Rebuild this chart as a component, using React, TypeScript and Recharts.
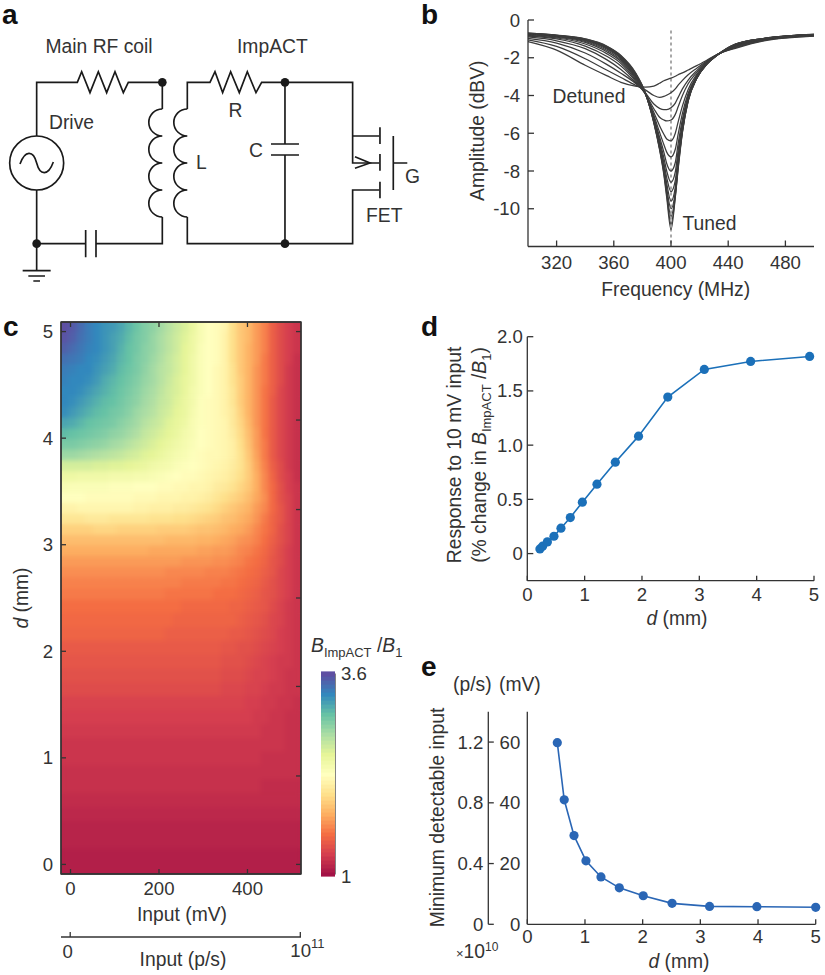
/**
 * Five panel figure: resonator circuit (a), tuning curves (b), sensitivity map (c),
 * response vs depth (d), detection limit vs depth (e).
 */
import React from 'react';
import {
  LineChart,
  Line,
  ReferenceArea,
  ReferenceLine,
  Scatter,
  ScatterChart,
  XAxis,
  YAxis,
} from 'recharts';

const FONT = '"Liberation Sans", Arial, sans-serif';
const INK = '#333333';
const FS = 18.6;
const LABEL_FS = 19.3;

// ---- panel b: amplitude (dBV) per frequency, most detuned curve first
const freqs = [300, 320, 340, 355, 365, 375, 382, 388, 392, 395, 397, 400, 403, 405, 408, 412, 418, 425, 432, 445, 465, 500];
const c0 = [-1.15, -1.6, -2.4, -2.95, -3.3, -3.5, -3.55, -3.5, -3.35, -3.22, -3.16, -3.08, -2.98, -2.9, -2.8, -2.65, -2.42, -2.13, -1.83, -1.5, -1.1, -0.85];
const c1 = [-1.05, -1.4, -2.05, -2.65, -3.05, -3.45, -3.7, -4.0, -4.1, -4.05, -3.98, -3.85, -3.65, -3.45, -3.2, -2.9, -2.55, -2.17, -1.84, -1.47, -1.08, -0.84];
const c2 = [-0.97, -1.22, -1.75, -2.35, -2.82, -3.35, -3.85, -4.45, -4.68, -4.75, -4.75, -4.65, -4.4, -4.1, -3.65, -3.18, -2.68, -2.2, -1.85, -1.44, -1.06, -0.83];
const c3 = [-0.9, -1.1, -1.52, -2.1, -2.62, -3.3, -3.9, -4.7, -5.15, -5.3, -5.35, -5.3, -5.0, -4.6, -4.0, -3.38, -2.77, -2.23, -1.85, -1.41, -1.04, -0.82];
const c4 = [-0.85, -1.0, -1.38, -1.92, -2.44, -3.22, -3.9, -4.9, -5.6, -6.05, -6.3, -6.4, -6.0, -5.4, -4.55, -3.68, -2.88, -2.26, -1.86, -1.38, -1.03, -0.81];
const c5 = [-0.81, -0.95, -1.27, -1.78, -2.3, -3.15, -3.9, -5.05, -5.95, -6.6, -7.0, -7.25, -6.85, -6.05, -4.95, -3.88, -2.95, -2.28, -1.86, -1.36, -1.02, -0.8];
const c6 = [-0.78, -0.91, -1.19, -1.68, -2.2, -3.08, -3.9, -5.15, -6.2, -7.0, -7.6, -8.0, -7.55, -6.55, -5.25, -4.0, -3.0, -2.3, -1.87, -1.34, -1.01, -0.79];
const c7 = [-0.76, -0.88, -1.14, -1.6, -2.12, -3.02, -3.88, -5.22, -6.35, -7.3, -8.0, -8.6, -8.05, -6.9, -5.45, -4.08, -3.03, -2.31, -1.87, -1.33, -1.0, -0.78];
const c8 = [-0.74, -0.86, -1.1, -1.54, -2.05, -2.97, -3.88, -5.28, -6.5, -7.55, -8.35, -9.1, -8.5, -7.2, -5.6, -4.15, -3.05, -2.32, -1.87, -1.32, -0.99, -0.78];
const c9 = [-0.73, -0.84, -1.07, -1.49, -2.0, -2.92, -3.87, -5.33, -6.6, -7.75, -8.65, -9.6, -8.85, -7.42, -5.72, -4.2, -3.07, -2.33, -1.88, -1.31, -0.99, -0.77];
const c10 = [-0.72, -0.83, -1.05, -1.45, -1.96, -2.88, -3.87, -5.37, -6.7, -7.9, -8.9, -10.0, -9.1, -7.6, -5.8, -4.23, -3.08, -2.34, -1.88, -1.3, -0.98, -0.77];
const c11 = [-0.71, -0.82, -1.03, -1.42, -1.93, -2.84, -3.86, -5.4, -6.77, -8.0, -9.1, -10.4, -9.25, -7.72, -5.87, -4.26, -3.09, -2.34, -1.88, -1.29, -0.98, -0.76];
const c12 = [-0.7, -0.81, -1.01, -1.4, -1.9, -2.8, -3.86, -5.43, -6.82, -8.1, -9.25, -10.8, -9.35, -7.82, -5.92, -4.28, -3.1, -2.35, -1.88, -1.28, -0.97, -0.76];
const c13 = [-0.7, -0.8, -1.0, -1.38, -1.88, -2.77, -3.85, -5.45, -6.87, -8.2, -9.4, -11.1, -9.4, -7.9, -5.95, -4.3, -3.1, -2.35, -1.88, -1.28, -0.97, -0.76];
const tuningCurves = [c0, c1, c2, c3, c4, c5, c6, c7, c8, c9, c10, c11, c12, c13];
const tuningTable = freqs.map((f, i) => {
  const row: Record<string, number> = { f };
  tuningCurves.forEach((c, k) => {
    row[`c${k}`] = c[i];
  });
  return row;
});
const freqTicks = [320, 360, 400, 440, 480];
const ampTicks = [0, -2, -4, -6, -8, -10];

// ---- panel c: position along the colour bar (0 = ratio 1, 100 = ratio 3.6), row per depth
const heatDepths = [
  5.04, 4.94, 4.84, 4.74, 4.64, 4.54, 4.44, 4.34, 4.24, 4.14, 4.04, 3.94, 3.84, 3.74, 3.64, 3.54, 3.44, 3.34, 3.24, 3.14,
  3.04, 2.94, 2.84, 2.74, 2.64, 2.54, 2.42, 2.29, 2.16, 2.03, 1.9, 1.77, 1.64, 1.51, 1.38, 1.25, 1.12, 0.99, 0.86, 0.73,
  0.6, 0.47, 0.34, 0.21, 0.08, -0.03,
];
const heatRows = [
  [100,98,95,92,90,88,87,85,82,79,76,74,71,68,65,62,58,53,50,49,47,40,35,32,27,23,17,13,10,8],
  [99,97,94,92,90,88,86,84,81,78,76,73,70,67,64,61,57,53,50,49,46,40,35,32,27,23,17,13,10,8],
  [97,95,93,91,90,88,86,83,80,78,75,73,70,67,64,60,57,52,50,49,46,40,35,31,27,23,17,13,10,8],
  [94,93,92,90,89,87,85,82,80,77,75,72,69,66,63,60,56,52,50,49,46,40,35,31,27,22,17,13,10,7],
  [92,91,90,90,88,86,84,81,79,77,74,71,68,66,63,60,56,52,50,48,46,41,35,31,26,22,17,13,9,7],
  [91,90,90,89,87,84,82,80,78,76,73,71,68,65,62,59,56,52,50,48,46,41,36,31,26,22,17,13,9,7],
  [90,90,89,87,85,83,81,79,77,75,72,70,67,64,62,59,55,52,50,48,46,42,36,31,26,21,17,12,9,7],
  [90,89,87,85,83,81,80,78,76,74,71,69,66,64,61,58,55,51,49,48,46,42,36,31,26,21,16,12,9,7],
  [89,87,85,83,81,80,78,77,75,72,70,68,65,63,60,58,54,51,49,48,46,43,37,31,26,21,16,12,9,7],
  [85,84,82,80,79,78,77,75,73,71,68,66,64,61,59,57,53,51,49,48,47,43,38,32,26,21,16,12,9,7],
  [81,80,79,78,77,76,74,73,71,69,66,64,62,60,58,55,53,50,49,48,47,44,39,33,27,21,16,12,9,7],
  [77,77,76,75,74,73,71,70,68,66,64,62,60,58,56,54,52,50,49,48,47,45,40,34,27,22,16,12,9,7],
  [72,72,71,70,69,68,67,66,64,63,61,60,58,56,54,53,51,49,48,48,47,45,41,35,28,22,16,12,9,7],
  [63,63,63,63,62,62,61,61,60,59,58,56,55,54,52,51,50,49,48,47,46,44,41,36,29,23,17,13,9,7],
  [57,57,56,56,56,56,55,55,55,54,54,53,52,51,50,49,49,48,47,46,45,43,40,36,30,24,18,13,10,7],
  [53,52,52,52,52,52,51,51,51,50,50,50,49,49,48,48,47,47,46,44,43,41,38,35,30,24,19,14,10,8],
  [50,50,50,49,49,49,49,49,49,48,48,48,47,47,47,46,46,45,44,42,40,38,36,33,29,25,19,14,11,8],
  [46,46,47,47,47,47,47,47,47,46,46,45,45,45,44,44,43,42,41,39,37,35,33,31,27,24,19,15,11,8],
  [42,42,42,43,43,43,42,42,42,42,42,41,41,41,40,40,39,38,37,36,34,33,31,29,26,22,18,15,11,8],
  [37,37,37,37,38,38,38,37,37,37,37,37,36,36,36,36,35,34,34,33,32,30,29,27,24,21,18,14,11,8],
  [33,33,33,33,33,33,33,33,33,33,33,33,33,32,32,32,32,31,31,30,29,28,26,25,23,20,17,14,11,8],
  [30,30,30,30,30,30,30,30,30,30,30,29,29,29,29,29,29,28,28,27,27,26,24,23,21,19,16,13,10,8],
  [27,27,27,27,27,27,27,27,27,27,27,27,27,27,27,26,26,26,26,25,25,24,23,21,20,18,15,13,10,8],
  [25,25,25,25,25,25,25,25,25,25,25,25,25,24,24,24,24,24,23,23,23,22,21,20,19,17,15,12,10,8],
  [23,23,23,23,23,23,23,23,23,23,23,23,23,23,23,22,22,22,22,22,21,21,20,19,18,16,14,12,10,8],
  [22,22,22,22,22,22,22,22,22,22,22,22,22,21,21,21,21,21,21,20,20,20,19,18,17,15,14,12,10,8],
  [20,20,20,20,20,20,20,20,20,20,20,20,20,20,20,19,19,19,19,19,19,18,18,17,16,15,13,11,9,8],
  [19,19,19,19,19,19,19,19,19,19,19,19,19,19,18,18,18,18,18,18,18,18,17,16,15,14,12,11,9,8],
  [18,18,18,18,18,18,18,18,18,18,18,18,18,17,17,17,17,17,17,17,17,16,16,15,14,13,12,10,9,8],
  [16,16,16,16,16,16,16,16,16,16,16,16,16,16,16,16,16,16,16,16,15,15,14,14,13,12,11,10,9,8],
  [15,15,15,15,15,15,15,15,15,15,15,15,15,15,15,15,15,15,15,15,14,14,14,13,12,11,10,9,9,8],
  [14,14,14,14,14,14,14,14,14,14,14,14,14,14,14,14,14,14,14,14,13,13,13,12,11,11,10,9,8,8],
  [13,13,13,13,13,13,13,13,13,13,13,13,13,13,13,13,13,13,13,13,12,12,12,11,11,10,9,9,8,8],
  [11,11,11,11,11,11,11,11,11,11,11,11,11,11,11,11,11,11,11,11,11,11,11,10,10,9,9,8,8,7],
  [10,10,10,10,10,10,10,10,10,10,10,10,10,10,10,10,10,10,10,10,10,10,10,10,9,9,8,8,7,7],
  [9,9,9,9,9,9,9,9,9,9,9,9,9,9,9,9,9,9,9,9,9,9,9,9,9,8,8,8,7,7],
  [8,8,8,8,8,8,8,8,8,8,8,8,8,8,8,8,8,8,8,8,8,8,8,8,8,8,8,8,7,7],
  [8,8,8,8,8,8,8,8,8,8,8,8,8,8,8,8,8,8,8,8,8,8,8,8,8,7,7,7,7,7],
  [7,7,7,7,7,7,7,7,7,7,7,7,7,7,7,7,7,7,7,7,7,7,7,7,7,7,7,7,7,7],
  [7,7,7,7,7,7,7,7,7,7,7,7,7,7,7,7,7,7,7,7,7,7,7,7,7,6,6,6,6,6],
  [6,6,6,6,6,6,6,6,6,6,6,6,6,6,6,6,6,6,6,6,6,6,6,6,6,6,6,6,6,6],
  [5,5,5,5,5,5,5,5,5,5,5,5,5,5,5,5,5,5,5,5,5,5,5,5,5,5,5,5,5,5],
  [4,4,4,4,4,4,4,4,4,4,4,4,4,4,4,4,4,4,4,4,4,4,4,4,4,4,4,4,4,4],
  [4,4,4,4,4,4,4,4,4,4,4,4,4,4,4,4,4,4,4,4,4,4,4,4,4,4,4,4,4,4],
  [3,3,3,3,3,3,3,3,3,3,3,3,3,3,3,3,3,3,3,3,3,3,3,3,3,3,3,3,3,3],
  [3,3,3,3,3,3,3,3,3,3,3,3,3,3,3,3,3,3,3,3,3,3,3,3,3,3,3,3,3,3],
];
const inputDomain: [number, number] = [-21.5, 521];
const depthDomain: [number, number] = [-0.09, 5.09];
const inputTicks = [0, 200, 400];
const depthTicks = [0, 1, 2, 3, 4, 5];
const sideTicks = [0, 0.83, 1.67, 2.5, 3.33, 4.17, 5];
const photonDomain: [number, number] = [-0.04, 1.003];
const photonTicks = [0, 1];
const barLevels = [
  0, 2, 4, 6, 8, 10, 12, 14, 16, 18, 20, 22, 24, 26, 28, 30, 32, 34, 36, 38, 40, 42, 44, 46, 48, 50, 52, 54, 56, 58, 60,
  62, 64, 66, 68, 70, 72, 74, 76, 78, 80, 82, 84, 86, 88, 90, 92, 94, 96, 98, 100,
];
const barTicks = [1, 3.6];

// ---- panel d
const responseDepth = [0.22, 0.267, 0.35, 0.465, 0.587, 0.75, 0.96, 1.215, 1.535, 1.94, 2.45, 3.087, 3.895, 4.924];
const responseValue = [0.043, 0.068, 0.108, 0.16, 0.234, 0.332, 0.474, 0.64, 0.843, 1.083, 1.443, 1.698, 1.772, 1.818];
const responseTicks = [0, 0.5, 1, 1.5, 2];

// ---- panel e
const limitDepth = [0.52, 0.64, 0.81, 1.017, 1.277, 1.595, 2.01, 2.51, 3.16, 3.98, 5.0];
const limitMv = [59.8, 41.0, 29.2, 20.9, 15.6, 12.0, 9.4, 6.9, 5.9, 5.8, 5.6];
const limitPhotons = [1.196, 0.82, 0.584, 0.418, 0.312, 0.24, 0.188, 0.138, 0.118, 0.116, 0.112];
const limitMvTicks = [0, 20, 40, 60];
const limitPhotonTicks = [0, 0.4, 0.8, 1.2];
const mmTicks = [0, 1, 2, 3, 4, 5];

// Spectral colour bar, low to high (low end a little muted, as in the figure)
const SPECTRAL = [
  [163, 18, 70], [213, 62, 79], [244, 109, 67], [253, 174, 97], [254, 224, 139], [255, 255, 191],
  [230, 245, 152], [171, 221, 164], [102, 194, 165], [50, 136, 189], [94, 79, 162],
];
function spectral(pct: number) {
  const p = Math.min(99.999, Math.max(0, pct)) / 10;
  const i = Math.floor(p);
  const f = p - i;
  const c = SPECTRAL[i].map((v, k) => Math.round(v + (SPECTRAL[i + 1][k] - v) * f));
  return `rgb(${c[0]},${c[1]},${c[2]})`;
}

const HEAT_W = 240;
const HEAT_H = 552;
const colW = (HEAT_W / heatRows[0].length) + 0.6;
const heatCells = heatRows.flatMap((row, r) => {
  const top = r === 0 ? depthDomain[1] : (heatDepths[r - 1] + heatDepths[r]) / 2;
  const bottom = r === heatRows.length - 1 ? depthDomain[0] : (heatDepths[r] + heatDepths[r + 1]) / 2;
  const span = inputDomain[1] - inputDomain[0];
  return row.map((t, c) => ({
    x: inputDomain[0] + ((c + 0.5) * span) / row.length,
    y: (top + bottom) / 2,
    t,
    h: ((top - bottom) * HEAT_H) / (depthDomain[1] - depthDomain[0]) + 0.6,
  }));
});
const barCells = barLevels.map((t) => ({ x: 0.5, y: 1 + (2.6 * t) / 100, t }));
const frameAnchor = [{ x: 0, y: 0 }];
const photonAnchors = photonTicks.map((x) => ({ x, y: 0 }));

function HeatCell(props: any) {
  const { cx, cy, payload } = props;
  return <rect x={cx - colW / 2} y={cy - payload.h / 2} width={colW} height={payload.h} fill={spectral(payload.t)} />;
}
function BarCell(props: any) {
  const { cx, cy, payload } = props;
  return <rect x={cx - 7} y={cy - 2.6} width={14} height={5.2} fill={spectral(payload.t)} />;
}
const NoMark = () => <g />;

const axisLine = { stroke: INK, strokeWidth: 1.3 };
const tickText = { fontFamily: FONT, fontSize: FS, fill: INK };

const bottomTick = (len: number, gap: number) => (p: any) => (
  <g>
    <line x1={p.x} x2={p.x} y1={p.y} y2={p.y - len} stroke={INK} strokeWidth={1.3} />
    <text x={p.x} y={p.y + gap} textAnchor="middle" {...tickText}>{p.payload.value}</text>
  </g>
);
const leftTick = (len: number, gap: number, fmt: (v: number) => string = String) => (p: any) => (
  <g>
    <line x1={p.x} x2={p.x + len} y1={p.y} y2={p.y} stroke={INK} strokeWidth={1.3} />
    <text x={p.x - gap} y={p.y + 6.5} textAnchor="end" {...tickText}>{fmt(p.payload.value)}</text>
  </g>
);
const topMark = (p: any) => <line x1={p.x} x2={p.x} y1={p.y} y2={p.y + 5} stroke={INK} strokeWidth={1.3} />;
const rightMark = (p: any) => <line x1={p.x} x2={p.x - 5} y1={p.y} y2={p.y} stroke={INK} strokeWidth={1.3} />;
const barTick = (p: any) => (
  <text x={p.x + 6} y={p.y + (p.payload.value === 1 ? 9 : 5.5)} {...tickText}>{p.payload.value}</text>
);
const photonTick = (p: any) =>
  p.payload.value === 0 ? (
    <g>
      <line x1={p.x} x2={p.x} y1={p.y} y2={p.y - 5} stroke={INK} strokeWidth={1.3} />
      <text x={p.x - 2.5} y={p.y + 21} textAnchor="middle" {...tickText}>0</text>
    </g>
  ) : (
    <g>
      <line x1={p.x} x2={p.x} y1={p.y} y2={p.y - 5} stroke={INK} strokeWidth={1.3} />
      <text x={p.x - 10} y={p.y + 20} {...tickText}>
        10
        <tspan fontSize={13} dy={-9}>11</tspan>
      </text>
    </g>
  );
const fmtResponse = (v: number) => (v === 0 ? '0' : v.toFixed(1));

const abs = (left: number, top: number): React.CSSProperties => ({ position: 'absolute', left, top });

function Coil({ x }: { x: number }) {
  const ys = [327, 408, 489, 570, 651];
  const d = `M${x},${ys[0]} ` + ys.slice(1).map((y) => `A40.5,40.5 0 0 0 ${x},${y}`).join(' ');
  return <path d={d} />;
}

// Circuit and all free text, drawn over the charts
function Overlay() {
  const t = { fontFamily: FONT, fontSize: LABEL_FS, fill: INK };
  const letter = { fontFamily: FONT, fontSize: 28, fontWeight: 700, fill: '#111' };
  return (
    <svg width={825} height={975} style={abs(0, 0)}>
      <g transform="scale(0.3333)" fill="none" stroke="#1a1a1a" strokeWidth={5}>
        <path d="M110,408 V247 H232 L245,215 L270,278 L295,215 L320,278 L345,215 L370,278 L385,247 H487 V327" />
        <Coil x={487} />
        <path d="M487,651 V731 H290 M257,731 H110 V812 M257,690 V772 M288,690 V772" />
        <path d="M110,570 V731" />
        <circle cx={110} cy={489} r={81} />
        <path d="M60,492 C75,450 100,450 110,489 C120,528 145,528 160,486" />
        <path d="M68,812 H152 M85,828 H135 M100,843 H120" />
        <Coil x={562} />
        <path d="M562,327 V247 H630 L645,215 L668,278 L692,215 L718,278 L742,215 L768,278 L785,247 H1058 V489 H1138" />
        <path d="M562,651 V731 H1058 V570 H1138 M1058,408 H1138" />
        <path d="M855,247 V432 M813,432 H897 M813,465 H897 M855,465 V731" />
        <path d="M1065,470 L1110,489 L1065,505" />
        <path d="M1140,382 V432 M1140,462 V512 M1140,545 V595 M1180,408 V570 M1180,489 H1222" />
        <g fill="#1a1a1a" stroke="none">
          <circle cx={487} cy={247} r={13} />
          <circle cx={855} cy={247} r={13} />
          <circle cx={855} cy={731} r={13} />
          <circle cx={110} cy={731} r={13} />
        </g>
      </g>
      <text x={2} y={24} {...letter}>a</text>
      <text x={421} y={24} {...letter}>b</text>
      <text x={3} y={336} {...letter}>c</text>
      <text x={421} y={336} {...letter}>d</text>
      <text x={421} y={676} {...letter}>e</text>

      <text x={45.5} y={52.7} {...t}>Main RF coil</text>
      <text x={237} y={52.7} {...t}>ImpACT</text>
      <text x={49} y={129} {...t}>Drive</text>
      <text x={228.5} y={117} {...t}>R</text>
      <text x={249} y={157} {...t}>C</text>
      <text x={196} y={169} {...t}>L</text>
      <text x={405} y={183} {...t}>G</text>
      <text x={366} y={222} {...t}>FET</text>

      <text x={552.5} y={103} {...t}>Detuned</text>
      <text x={682.5} y={230} {...t}>Tuned</text>
      <text x={675.7} y={295.5} textAnchor="middle" {...t}>Frequency (MHz)</text>
      <text transform="translate(484,130.7) rotate(-90)" textAnchor="middle" {...t}>Amplitude (dBV)</text>

      <text transform="translate(28,598) rotate(-90)" textAnchor="middle" {...t}>
        <tspan fontStyle="italic">d</tspan> (mm)
      </text>
      <text x={182} y={921} textAnchor="middle" {...t}>Input (mV)</text>
      <text x={183} y={966} textAnchor="middle" {...t}>Input (p/s)</text>
      <text x={311} y={652} {...t}>
        <tspan fontStyle="italic">B</tspan>
        <tspan fontSize={13} dy={5}>ImpACT</tspan>
        <tspan dy={-5}> /</tspan>
        <tspan fontStyle="italic">B</tspan>
        <tspan fontSize={13} dy={5}>1</tspan>
      </text>

      <text transform="translate(461,455) rotate(-90)" textAnchor="middle" {...t}>Response to 10 mV input</text>
      <text transform="translate(486,455) rotate(-90)" textAnchor="middle" {...t}>
        (% change in <tspan fontStyle="italic">B</tspan>
        <tspan fontSize={13} dy={5}>ImpACT</tspan>
        <tspan dy={-5}> /</tspan>
        <tspan fontStyle="italic">B</tspan>
        <tspan fontSize={13} dy={5}>1</tspan>
        <tspan dy={-5}>)</tspan>
      </text>
      <text x={677} y={625} textAnchor="middle" {...t}>
        <tspan fontStyle="italic">d</tspan> (mm)
      </text>

      <text x={453} y={691} {...t}>(p/s)</text>
      <text x={499} y={691} {...t}>(mV)</text>
      <text transform="translate(444,817.5) rotate(-90)" textAnchor="middle" {...t}>Minimum detectable input</text>
      <text x={456} y={958} {...t}>
        <tspan fontSize={13}>×</tspan>10<tspan fontSize={12} dy={-7}>10</tspan>
      </text>
      <text x={679} y={968} textAnchor="middle" {...t}>
        <tspan fontStyle="italic">d</tspan> (mm)
      </text>
    </svg>
  );
}

function HeatLayer() {
  return (
    <ScatterChart width={HEAT_W} height={HEAT_H} margin={{ top: 0, right: 0, bottom: 0, left: 0 }}>
      <XAxis hide type="number" dataKey="x" domain={inputDomain} allowDataOverflow />
      <YAxis hide type="number" dataKey="y" domain={depthDomain} allowDataOverflow />
      <Scatter data={heatCells} shape={HeatCell} isAnimationActive={false} />
    </ScatterChart>
  );
}

export default function App() {
  return (
    <div style={{ position: 'absolute', left: 0, top: 0, width: 825, height: 975, background: '#fff', overflow: 'hidden' }}>
      {/* b */}
      <div style={abs(440, 0)}>
        <LineChart width={385} height={310} data={tuningTable} margin={{ top: 20, right: 11, bottom: 0, left: 0 }}>
          <XAxis
            type="number" dataKey="f" domain={[300, 500]} ticks={freqTicks} height={63.5}
            axisLine={axisLine} tickLine={false} tickSize={0} tickMargin={0} tick={bottomTick(6, 22)} interval={0}
          />
          <YAxis
            type="number" domain={[-12, 0]} ticks={ampTicks} width={88}
            axisLine={axisLine} tickLine={false} tickSize={0} tickMargin={0} tick={leftTick(6, 8)} interval={0}
          />
          <ReferenceLine
            segment={[{ x: 400, y: -0.55 }, { x: 400, y: -12 }]}
            stroke="#a8a8a8" strokeWidth={2} strokeDasharray="3 3"
          />
          {tuningCurves.map((_, k) => (
            <Line key={k} dataKey={`c${k}`} type="monotone" stroke="#3c3c3c" strokeWidth={1.25} dot={false} isAnimationActive={false} />
          ))}
        </LineChart>
      </div>

      {/* c: sharp cells, a softened copy, then frame and ticks */}
      <div style={abs(61, 322)}>
        <HeatLayer />
      </div>
      <div style={{ ...abs(61, 322), width: HEAT_W, height: HEAT_H, overflow: 'hidden' }}>
        <div style={{ filter: 'blur(2.5px)' }}>
          <HeatLayer />
        </div>
      </div>
      <div style={abs(0, 300)}>
        <ScatterChart width={320} height={620} margin={{ top: 21, right: 18, bottom: 0, left: 0 }}>
          <XAxis
            type="number" dataKey="x" xAxisId="b" domain={inputDomain} ticks={inputTicks} height={46} allowDataOverflow
            axisLine={axisLine} tickLine={false} tickSize={0} tickMargin={0} tick={bottomTick(5, 20.5)} interval={0}
          />
          <XAxis
            type="number" dataKey="x" xAxisId="t" orientation="top" domain={inputDomain} ticks={inputTicks} height={1} allowDataOverflow
            axisLine={axisLine} tickLine={false} tickSize={0} tickMargin={0} tick={topMark} interval={0}
          />
          <YAxis
            type="number" dataKey="y" yAxisId="l" domain={depthDomain} ticks={depthTicks} width={61} allowDataOverflow
            axisLine={axisLine} tickLine={false} tickSize={0} tickMargin={0} tick={leftTick(5, 8)} interval={0}
          />
          <YAxis
            type="number" dataKey="y" yAxisId="r" orientation="right" domain={depthDomain} ticks={sideTicks} width={1} allowDataOverflow
            axisLine={axisLine} tickLine={false} tickSize={0} tickMargin={0} tick={rightMark} interval={0}
          />
          <Scatter xAxisId="b" yAxisId="l" data={frameAnchor} shape={NoMark} isAnimationActive={false} />
          <Scatter xAxisId="t" yAxisId="r" data={frameAnchor} shape={NoMark} isAnimationActive={false} />
          <ReferenceArea xAxisId="b" yAxisId="l" x1={inputDomain[0]} x2={inputDomain[1]} y1={depthDomain[0]} y2={depthDomain[1]} fill="none" stroke={INK} strokeWidth={1.3} />
        </ScatterChart>
      </div>

      {/* colour bar */}
      <div style={abs(321, 659)}>
        <ScatterChart width={70} height={230} margin={{ top: 15, right: 0, bottom: 15, left: 0 }}>
          <XAxis hide type="number" dataKey="x" domain={[0, 1]} />
          <YAxis
            type="number" dataKey="y" orientation="right" domain={[1, 3.6]} ticks={barTicks} width={56}
            axisLine={false} tickLine={false} tickSize={0} tickMargin={0} tick={barTick} interval={0}
          />
          <Scatter data={barCells} shape={BarCell} isAnimationActive={false} />
          <ReferenceArea x1={0} x2={1} y1={1} y2={3.6} fill="none" stroke={INK} strokeWidth={1.2} />
        </ScatterChart>
      </div>

      {/* second input axis */}
      <div style={abs(0, 900)}>
        <ScatterChart width={360} height={62} margin={{ top: 0, right: 59, bottom: 0, left: 61 }}>
          <XAxis
            type="number" dataKey="x" domain={photonDomain} ticks={photonTicks} height={25} allowDataOverflow
            axisLine={axisLine} tickLine={false} tickSize={0} tickMargin={0} tick={photonTick} interval={0}
          />
          <YAxis hide type="number" dataKey="y" domain={[-1, 1]} />
          <Scatter data={photonAnchors} shape={NoMark} isAnimationActive={false} />
        </ScatterChart>
      </div>

      {/* d */}
      <div style={abs(420, 310)}>
        <LineChart
          width={405} height={320}
          data={responseDepth.map((d, i) => ({ d, v: responseValue[i] }))}
          margin={{ top: 26.7, right: 11, bottom: 0, left: 0 }}
        >
          <XAxis
            type="number" dataKey="d" domain={[0, 5]} ticks={mmTicks} height={49.3}
            axisLine={axisLine} tickLine={false} tickSize={0} tickMargin={0} tick={bottomTick(5, 20)} interval={0}
          />
          <YAxis
            type="number" domain={[-0.25, 2]} ticks={responseTicks} width={107.3}
            axisLine={axisLine} tickLine={false} tickSize={0} tickMargin={0} tick={leftTick(6, 4.5, fmtResponse)} interval={0}
          />
          <Line dataKey="v" stroke="#1b70b9" strokeWidth={1.6} dot={{ r: 4.6, fill: '#1b70b9', stroke: 'none' }} isAnimationActive={false} />
        </LineChart>
      </div>

      {/* e */}
      <div style={abs(420, 650)}>
        <LineChart
          width={405} height={325}
          data={limitDepth.map((d, i) => ({ d, v: limitMv[i], ps: limitPhotons[i] }))}
          margin={{ top: 61.7, right: 9.3, bottom: 0, left: 0 }}
        >
          <XAxis
            type="number" dataKey="d" domain={[0, 5]} ticks={mmTicks} height={50.7}
            axisLine={axisLine} tickLine={false} tickSize={0} tickMargin={0} tick={bottomTick(5, 19)} interval={0}
          />
          <YAxis
            yAxisId="ps" type="number" domain={[0, 1.4]} ticks={limitPhotonTicks} width={68.3}
            axisLine={axisLine} tickLine={false} tickSize={0} tickMargin={0} tick={leftTick(5.5, 5)} interval={0}
          />
          <YAxis
            yAxisId="mv" type="number" domain={[0, 70]} ticks={limitMvTicks} width={39}
            axisLine={axisLine} tickLine={false} tickSize={0} tickMargin={0} tick={leftTick(0, 7)} interval={0}
          />
          <Line yAxisId="ps" dataKey="ps" stroke="none" dot={false} isAnimationActive={false} />
          <Line yAxisId="mv" dataKey="v" stroke="#2a66b5" strokeWidth={1.6} dot={{ r: 4.6, fill: '#2a66b5', stroke: 'none' }} isAnimationActive={false} />
        </LineChart>
      </div>

      <Overlay />
    </div>
  );
}
